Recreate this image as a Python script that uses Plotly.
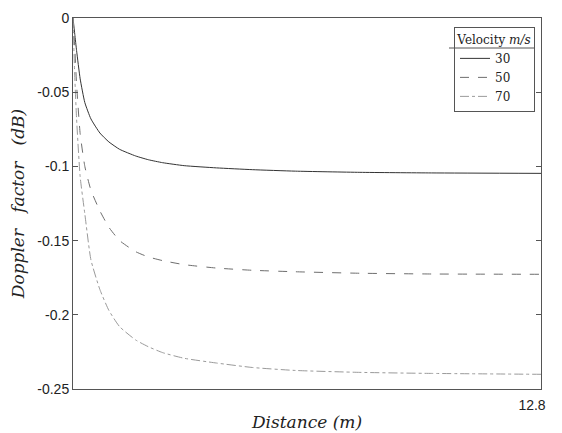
import plotly.graph_objects as go

distance = [0, 0.05, 0.1, 0.2, 0.33, 0.5, 0.75, 1.0, 1.3, 1.75, 2.1, 2.5, 3.1, 4, 5, 6.2, 8, 10, 13.05]
v30 = [0, -0.011, -0.022, -0.041, -0.057, -0.068, -0.0775, -0.0835, -0.0885, -0.093, -0.0955,
       -0.0975, -0.0995, -0.101, -0.1022, -0.1032, -0.104, -0.1044, -0.1047]
v50 = [0, -0.02, -0.045, -0.078, -0.1, -0.116, -0.130, -0.141, -0.150, -0.1575, -0.161,
       -0.1635, -0.1662, -0.1685, -0.170, -0.171, -0.172, -0.1725, -0.1727]
v70 = [0, -0.04, -0.068, -0.107, -0.132, -0.163, -0.183, -0.197, -0.208, -0.217, -0.2215,
       -0.2255, -0.2293, -0.2325, -0.2355, -0.2375, -0.2388, -0.2395, -0.2401]

series_names = ["30", "50", "70"]
y_ticks = [0, -0.05, -0.1, -0.15, -0.2, -0.25]
y_ticktext = ["0", "-0.05", "-0.1", "-0.15", "-0.2", "-0.25"]
x_ticks = [12.8]
x_ticktext = ["12.8"]

styles = [
    dict(color="#333333", dash="solid"),
    dict(color="#6e6e6e", dash="dash"),
    dict(color="#9a9a9a", dash="dashdot"),
]

fig = go.Figure()
for name, ys, st in zip(series_names, [v30, v50, v70], styles):
    fig.add_trace(go.Scatter(
        x=distance, y=ys, mode="lines", name=name,
        line=dict(color=st["color"], dash=st["dash"], width=1, shape="spline", smoothing=0.5),
    ))

# separator line under the legend title
fig.add_shape(type="line", xref="paper", yref="paper",
              x0=(449 - 73) / 468, x1=(534 - 73) / 468,
              y0=(389 - 48) / 371, y1=(389 - 48) / 371,
              line=dict(color="#555555", width=1))

fig.update_layout(
    width=562, height=433,
    margin=dict(l=73, r=21, t=18, b=44),
    paper_bgcolor="white", plot_bgcolor="white",
    showlegend=True,
    legend=dict(
        x=(535 - 73) / 468, xanchor="right", y=0.975, yanchor="top",
        bordercolor="#555555", borderwidth=1, bgcolor="rgba(255,255,255,0)",
        font=dict(family="DejaVu Serif", size=12, color="#222"),
        title=dict(text="Velocity <i>m/s</i>", side="top center",
                   font=dict(family="DejaVu Serif", size=12, color="#222")),
        tracegroupgap=0,
    ),
    xaxis=dict(
        range=[0, 13.05], tickmode="array", tickvals=x_ticks, ticktext=x_ticktext,
        ticks="", ticklabelstandoff=3, automargin=False,
        showline=True, linecolor="#555", linewidth=1, mirror=True,
        showgrid=False, zeroline=False,
        tickfont=dict(family="Liberation Sans", size=14, color="#222"),
        title=dict(text="<i>Distance (m)</i>", standoff=4,
                   font=dict(family="DejaVu Serif", size=17, color="#222")),
    ),
    yaxis=dict(
        range=[-0.25, 0], tickmode="array", tickvals=y_ticks, ticktext=y_ticktext,
        ticks="inside", ticklen=5, tickcolor="#555", automargin=False,
        showline=True, linecolor="#555", linewidth=1, mirror="ticks",
        showgrid=False, zeroline=False,
        tickfont=dict(family="Liberation Sans", size=14, color="#222"),
        title=dict(text="<i>Doppler&nbsp;&nbsp; factor&nbsp;&nbsp; (dB)</i>", standoff=8,
                   font=dict(family="DejaVu Serif", size=17, color="#222")),
    ),
)

fig.write_html("out.html")
